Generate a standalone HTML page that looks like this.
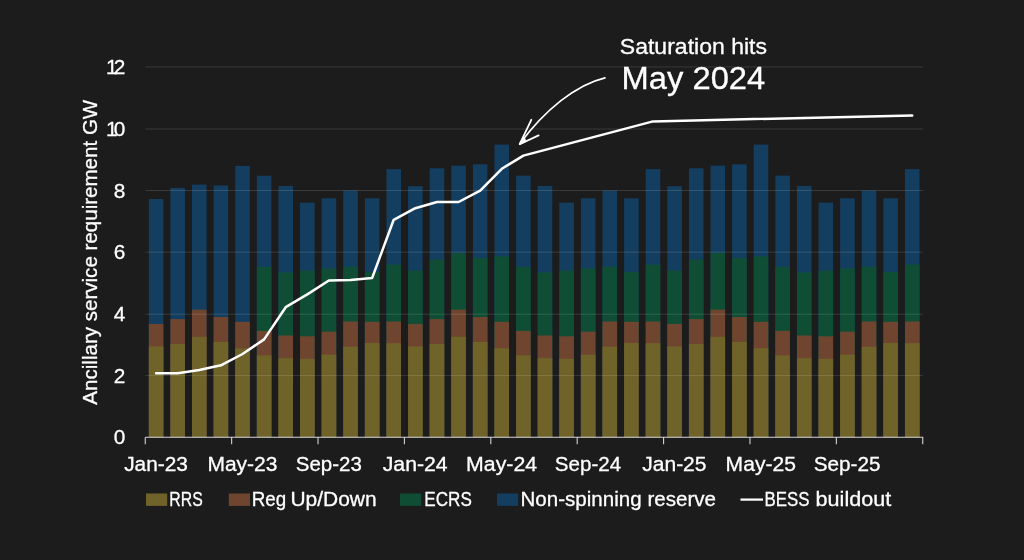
<!DOCTYPE html>
<html><head><meta charset="utf-8"><title>chart</title>
<style>html,body{margin:0;padding:0;background:#1c1c1c;}body{width:1024px;height:560px;overflow:hidden;}svg{display:block;will-change:transform;}text{font-family:"Liberation Sans",sans-serif;fill:#fff;stroke:#fff;stroke-width:0.3px;}</style></head><body>
<svg width="1024" height="560" viewBox="0 0 1024 560">
<rect width="1024" height="560" fill="#1c1c1c"/>
<g shape-rendering="auto">
<rect x="148.82" y="199.00" width="14.55" height="238.25" fill="#143e60"/>
<rect x="148.82" y="323.90" width="14.55" height="113.35" fill="#70452f"/>
<rect x="148.82" y="346.40" width="14.55" height="90.85" fill="#6f632a"/>
<rect x="170.43" y="187.90" width="14.55" height="249.35" fill="#143e60"/>
<rect x="170.43" y="319.10" width="14.55" height="118.15" fill="#70452f"/>
<rect x="170.43" y="344.00" width="14.55" height="93.25" fill="#6f632a"/>
<rect x="192.03" y="184.60" width="14.55" height="252.65" fill="#143e60"/>
<rect x="192.03" y="309.70" width="14.55" height="127.55" fill="#70452f"/>
<rect x="192.03" y="336.80" width="14.55" height="100.45" fill="#6f632a"/>
<rect x="213.64" y="185.50" width="14.55" height="251.75" fill="#143e60"/>
<rect x="213.64" y="317.00" width="14.55" height="120.25" fill="#70452f"/>
<rect x="213.64" y="341.90" width="14.55" height="95.35" fill="#6f632a"/>
<rect x="235.24" y="165.90" width="14.55" height="271.35" fill="#143e60"/>
<rect x="235.24" y="321.80" width="14.55" height="115.45" fill="#70452f"/>
<rect x="235.24" y="348.30" width="14.55" height="88.95" fill="#6f632a"/>
<rect x="256.85" y="175.70" width="14.55" height="261.55" fill="#143e60"/>
<rect x="256.85" y="266.90" width="14.55" height="170.35" fill="#0f4e34"/>
<rect x="256.85" y="330.90" width="14.55" height="106.35" fill="#70452f"/>
<rect x="256.85" y="355.30" width="14.55" height="81.95" fill="#6f632a"/>
<rect x="278.45" y="186.00" width="14.55" height="251.25" fill="#143e60"/>
<rect x="278.45" y="272.50" width="14.55" height="164.75" fill="#0f4e34"/>
<rect x="278.45" y="335.50" width="14.55" height="101.75" fill="#70452f"/>
<rect x="278.45" y="358.20" width="14.55" height="79.05" fill="#6f632a"/>
<rect x="300.05" y="202.60" width="14.55" height="234.65" fill="#143e60"/>
<rect x="300.05" y="270.60" width="14.55" height="166.65" fill="#0f4e34"/>
<rect x="300.05" y="336.30" width="14.55" height="100.95" fill="#70452f"/>
<rect x="300.05" y="358.80" width="14.55" height="78.45" fill="#6f632a"/>
<rect x="321.66" y="198.30" width="14.55" height="238.95" fill="#143e60"/>
<rect x="321.66" y="268.50" width="14.55" height="168.75" fill="#0f4e34"/>
<rect x="321.66" y="331.70" width="14.55" height="105.55" fill="#70452f"/>
<rect x="321.66" y="354.70" width="14.55" height="82.55" fill="#6f632a"/>
<rect x="343.26" y="190.50" width="14.55" height="246.75" fill="#143e60"/>
<rect x="343.26" y="266.70" width="14.55" height="170.55" fill="#0f4e34"/>
<rect x="343.26" y="321.50" width="14.55" height="115.75" fill="#70452f"/>
<rect x="343.26" y="346.70" width="14.55" height="90.55" fill="#6f632a"/>
<rect x="364.87" y="198.30" width="14.55" height="238.95" fill="#143e60"/>
<rect x="364.87" y="272.00" width="14.55" height="165.25" fill="#0f4e34"/>
<rect x="364.87" y="321.80" width="14.55" height="115.45" fill="#70452f"/>
<rect x="364.87" y="343.00" width="14.55" height="94.25" fill="#6f632a"/>
<rect x="386.47" y="169.10" width="14.55" height="268.15" fill="#143e60"/>
<rect x="386.47" y="264.60" width="14.55" height="172.65" fill="#0f4e34"/>
<rect x="386.47" y="321.50" width="14.55" height="115.75" fill="#70452f"/>
<rect x="386.47" y="343.20" width="14.55" height="94.05" fill="#6f632a"/>
<rect x="408.07" y="186.20" width="14.55" height="251.05" fill="#143e60"/>
<rect x="408.07" y="270.60" width="14.55" height="166.65" fill="#0f4e34"/>
<rect x="408.07" y="323.90" width="14.55" height="113.35" fill="#70452f"/>
<rect x="408.07" y="346.40" width="14.55" height="90.85" fill="#6f632a"/>
<rect x="429.68" y="168.30" width="14.55" height="268.95" fill="#143e60"/>
<rect x="429.68" y="259.45" width="14.55" height="177.80" fill="#0f4e34"/>
<rect x="429.68" y="319.10" width="14.55" height="118.15" fill="#70452f"/>
<rect x="429.68" y="344.00" width="14.55" height="93.25" fill="#6f632a"/>
<rect x="451.28" y="165.60" width="14.55" height="271.65" fill="#143e60"/>
<rect x="451.28" y="253.00" width="14.55" height="184.25" fill="#0f4e34"/>
<rect x="451.28" y="309.70" width="14.55" height="127.55" fill="#70452f"/>
<rect x="451.28" y="336.80" width="14.55" height="100.45" fill="#6f632a"/>
<rect x="472.88" y="164.30" width="14.55" height="272.95" fill="#143e60"/>
<rect x="472.88" y="258.00" width="14.55" height="179.25" fill="#0f4e34"/>
<rect x="472.88" y="317.00" width="14.55" height="120.25" fill="#70452f"/>
<rect x="472.88" y="341.90" width="14.55" height="95.35" fill="#6f632a"/>
<rect x="494.49" y="144.60" width="14.55" height="292.65" fill="#143e60"/>
<rect x="494.49" y="256.40" width="14.55" height="180.85" fill="#0f4e34"/>
<rect x="494.49" y="321.80" width="14.55" height="115.45" fill="#70452f"/>
<rect x="494.49" y="348.30" width="14.55" height="88.95" fill="#6f632a"/>
<rect x="516.09" y="175.60" width="14.55" height="261.65" fill="#143e60"/>
<rect x="516.09" y="266.90" width="14.55" height="170.35" fill="#0f4e34"/>
<rect x="516.09" y="330.90" width="14.55" height="106.35" fill="#70452f"/>
<rect x="516.09" y="355.30" width="14.55" height="81.95" fill="#6f632a"/>
<rect x="537.70" y="186.00" width="14.55" height="251.25" fill="#143e60"/>
<rect x="537.70" y="272.50" width="14.55" height="164.75" fill="#0f4e34"/>
<rect x="537.70" y="335.50" width="14.55" height="101.75" fill="#70452f"/>
<rect x="537.70" y="358.20" width="14.55" height="79.05" fill="#6f632a"/>
<rect x="559.30" y="202.60" width="14.55" height="234.65" fill="#143e60"/>
<rect x="559.30" y="270.60" width="14.55" height="166.65" fill="#0f4e34"/>
<rect x="559.30" y="336.30" width="14.55" height="100.95" fill="#70452f"/>
<rect x="559.30" y="358.80" width="14.55" height="78.45" fill="#6f632a"/>
<rect x="580.90" y="198.30" width="14.55" height="238.95" fill="#143e60"/>
<rect x="580.90" y="268.50" width="14.55" height="168.75" fill="#0f4e34"/>
<rect x="580.90" y="331.70" width="14.55" height="105.55" fill="#70452f"/>
<rect x="580.90" y="354.70" width="14.55" height="82.55" fill="#6f632a"/>
<rect x="602.51" y="190.50" width="14.55" height="246.75" fill="#143e60"/>
<rect x="602.51" y="266.70" width="14.55" height="170.55" fill="#0f4e34"/>
<rect x="602.51" y="321.50" width="14.55" height="115.75" fill="#70452f"/>
<rect x="602.51" y="346.70" width="14.55" height="90.55" fill="#6f632a"/>
<rect x="624.11" y="198.30" width="14.55" height="238.95" fill="#143e60"/>
<rect x="624.11" y="272.00" width="14.55" height="165.25" fill="#0f4e34"/>
<rect x="624.11" y="321.80" width="14.55" height="115.45" fill="#70452f"/>
<rect x="624.11" y="343.00" width="14.55" height="94.25" fill="#6f632a"/>
<rect x="645.72" y="169.10" width="14.55" height="268.15" fill="#143e60"/>
<rect x="645.72" y="264.60" width="14.55" height="172.65" fill="#0f4e34"/>
<rect x="645.72" y="321.50" width="14.55" height="115.75" fill="#70452f"/>
<rect x="645.72" y="343.20" width="14.55" height="94.05" fill="#6f632a"/>
<rect x="667.32" y="186.20" width="14.55" height="251.05" fill="#143e60"/>
<rect x="667.32" y="270.60" width="14.55" height="166.65" fill="#0f4e34"/>
<rect x="667.32" y="323.90" width="14.55" height="113.35" fill="#70452f"/>
<rect x="667.32" y="346.40" width="14.55" height="90.85" fill="#6f632a"/>
<rect x="688.93" y="168.30" width="14.55" height="268.95" fill="#143e60"/>
<rect x="688.93" y="259.45" width="14.55" height="177.80" fill="#0f4e34"/>
<rect x="688.93" y="319.10" width="14.55" height="118.15" fill="#70452f"/>
<rect x="688.93" y="344.00" width="14.55" height="93.25" fill="#6f632a"/>
<rect x="710.53" y="165.60" width="14.55" height="271.65" fill="#143e60"/>
<rect x="710.53" y="253.00" width="14.55" height="184.25" fill="#0f4e34"/>
<rect x="710.53" y="309.70" width="14.55" height="127.55" fill="#70452f"/>
<rect x="710.53" y="336.80" width="14.55" height="100.45" fill="#6f632a"/>
<rect x="732.13" y="164.30" width="14.55" height="272.95" fill="#143e60"/>
<rect x="732.13" y="258.00" width="14.55" height="179.25" fill="#0f4e34"/>
<rect x="732.13" y="317.00" width="14.55" height="120.25" fill="#70452f"/>
<rect x="732.13" y="341.90" width="14.55" height="95.35" fill="#6f632a"/>
<rect x="753.74" y="144.60" width="14.55" height="292.65" fill="#143e60"/>
<rect x="753.74" y="256.40" width="14.55" height="180.85" fill="#0f4e34"/>
<rect x="753.74" y="321.80" width="14.55" height="115.45" fill="#70452f"/>
<rect x="753.74" y="348.30" width="14.55" height="88.95" fill="#6f632a"/>
<rect x="775.34" y="175.60" width="14.55" height="261.65" fill="#143e60"/>
<rect x="775.34" y="266.90" width="14.55" height="170.35" fill="#0f4e34"/>
<rect x="775.34" y="330.90" width="14.55" height="106.35" fill="#70452f"/>
<rect x="775.34" y="355.30" width="14.55" height="81.95" fill="#6f632a"/>
<rect x="796.95" y="186.00" width="14.55" height="251.25" fill="#143e60"/>
<rect x="796.95" y="272.50" width="14.55" height="164.75" fill="#0f4e34"/>
<rect x="796.95" y="335.50" width="14.55" height="101.75" fill="#70452f"/>
<rect x="796.95" y="358.20" width="14.55" height="79.05" fill="#6f632a"/>
<rect x="818.55" y="202.60" width="14.55" height="234.65" fill="#143e60"/>
<rect x="818.55" y="270.60" width="14.55" height="166.65" fill="#0f4e34"/>
<rect x="818.55" y="336.30" width="14.55" height="100.95" fill="#70452f"/>
<rect x="818.55" y="358.80" width="14.55" height="78.45" fill="#6f632a"/>
<rect x="840.15" y="198.30" width="14.55" height="238.95" fill="#143e60"/>
<rect x="840.15" y="268.50" width="14.55" height="168.75" fill="#0f4e34"/>
<rect x="840.15" y="331.70" width="14.55" height="105.55" fill="#70452f"/>
<rect x="840.15" y="354.70" width="14.55" height="82.55" fill="#6f632a"/>
<rect x="861.76" y="190.50" width="14.55" height="246.75" fill="#143e60"/>
<rect x="861.76" y="266.70" width="14.55" height="170.55" fill="#0f4e34"/>
<rect x="861.76" y="321.50" width="14.55" height="115.75" fill="#70452f"/>
<rect x="861.76" y="346.70" width="14.55" height="90.55" fill="#6f632a"/>
<rect x="883.36" y="198.30" width="14.55" height="238.95" fill="#143e60"/>
<rect x="883.36" y="272.00" width="14.55" height="165.25" fill="#0f4e34"/>
<rect x="883.36" y="321.80" width="14.55" height="115.45" fill="#70452f"/>
<rect x="883.36" y="343.00" width="14.55" height="94.25" fill="#6f632a"/>
<rect x="904.97" y="169.10" width="14.55" height="268.15" fill="#143e60"/>
<rect x="904.97" y="264.60" width="14.55" height="172.65" fill="#0f4e34"/>
<rect x="904.97" y="321.50" width="14.55" height="115.75" fill="#70452f"/>
<rect x="904.97" y="343.20" width="14.55" height="94.05" fill="#6f632a"/>
</g>
<line x1="145.4" x2="923" y1="375.60" y2="375.60" stroke="#ffffff" stroke-opacity="0.13" stroke-width="1"/>
<line x1="145.4" x2="923" y1="314.20" y2="314.20" stroke="#ffffff" stroke-opacity="0.13" stroke-width="1"/>
<line x1="145.4" x2="923" y1="252.20" y2="252.20" stroke="#ffffff" stroke-opacity="0.13" stroke-width="1"/>
<line x1="145.4" x2="923" y1="190.50" y2="190.50" stroke="#ffffff" stroke-opacity="0.13" stroke-width="1"/>
<line x1="145.4" x2="923" y1="129.00" y2="129.00" stroke="#ffffff" stroke-opacity="0.13" stroke-width="1"/>
<line x1="145.4" x2="923" y1="66.95" y2="66.95" stroke="#ffffff" stroke-opacity="0.13" stroke-width="1"/>
<line x1="145.25" x2="923.2" y1="437.25" y2="437.25" stroke="#d4d4d4" stroke-width="1.1"/>
<line x1="145.25" x2="145.25" y1="437.25" y2="444.2" stroke="#d4d4d4" stroke-width="1.1"/>
<line x1="231.64" x2="231.64" y1="437.25" y2="444.2" stroke="#d4d4d4" stroke-width="1.1"/>
<line x1="318.03" x2="318.03" y1="437.25" y2="444.2" stroke="#d4d4d4" stroke-width="1.1"/>
<line x1="404.41" x2="404.41" y1="437.25" y2="444.2" stroke="#d4d4d4" stroke-width="1.1"/>
<line x1="490.80" x2="490.80" y1="437.25" y2="444.2" stroke="#d4d4d4" stroke-width="1.1"/>
<line x1="577.19" x2="577.19" y1="437.25" y2="444.2" stroke="#d4d4d4" stroke-width="1.1"/>
<line x1="663.58" x2="663.58" y1="437.25" y2="444.2" stroke="#d4d4d4" stroke-width="1.1"/>
<line x1="749.97" x2="749.97" y1="437.25" y2="444.2" stroke="#d4d4d4" stroke-width="1.1"/>
<line x1="836.35" x2="836.35" y1="437.25" y2="444.2" stroke="#d4d4d4" stroke-width="1.1"/>
<line x1="922.74" x2="922.74" y1="437.25" y2="444.2" stroke="#d4d4d4" stroke-width="1.1"/>
<polyline points="156.1,373.3 177.7,373.3 199.3,370.0 220.9,365.3 242.5,354.0 264.1,339.4 285.7,307.2 307.3,294.4 328.9,280.5 350.5,280.1 372.1,278.1 393.7,219.8 415.3,208.2 437.0,202.0 458.6,202.0 480.2,190.7 501.8,168.8 523.4,155.6 653.0,121.4 912.2,115.5" fill="none" stroke="#fff" stroke-width="2.5" stroke-linejoin="round" stroke-linecap="round"/>
<path d="M605,77.8 C575.5,84.8 544.5,110.5 519.8,143.8" fill="none" stroke="#fff" stroke-width="1.7" stroke-linecap="round"/>
<path d="M531.3,119.8 L519.7,144.2 L538.6,135.4" fill="none" stroke="#fff" stroke-width="1.8" stroke-linecap="round" stroke-linejoin="round"/>
<path d="M519.5,144.6 L523.6,136.2 L526.2,141.4 Z" fill="#fff" stroke="#fff" stroke-width="0.8" stroke-linejoin="round"/>
<text x="125.3" y="444.25" font-size="20.8" text-anchor="end">0</text>
<text x="125.3" y="382.60" font-size="20.8" text-anchor="end">2</text>
<text x="125.3" y="321.20" font-size="20.8" text-anchor="end">4</text>
<text x="125.3" y="259.20" font-size="20.8" text-anchor="end">6</text>
<text x="125.3" y="197.50" font-size="20.8" text-anchor="end">8</text>
<text x="106.1" y="136.00" font-size="20.8">1</text>
<text x="125.3" y="136.00" font-size="20.8" text-anchor="end">0</text>
<text x="106.1" y="73.95" font-size="20.8">1</text>
<text x="125.3" y="73.95" font-size="20.8" text-anchor="end">2</text>
<text x="156.05" y="470.7" font-size="20.5" text-anchor="middle" textLength="63.75" lengthAdjust="spacingAndGlyphs">Jan-23</text>
<text x="242.44" y="470.7" font-size="20.5" text-anchor="middle" textLength="70.00" lengthAdjust="spacingAndGlyphs">May-23</text>
<text x="328.82" y="470.7" font-size="20.5" text-anchor="middle" textLength="66.00" lengthAdjust="spacingAndGlyphs">Sep-23</text>
<text x="415.21" y="470.7" font-size="20.5" text-anchor="middle" textLength="65.00" lengthAdjust="spacingAndGlyphs">Jan-24</text>
<text x="501.60" y="470.7" font-size="20.5" text-anchor="middle" textLength="71.00" lengthAdjust="spacingAndGlyphs">May-24</text>
<text x="587.99" y="470.7" font-size="20.5" text-anchor="middle" textLength="66.25" lengthAdjust="spacingAndGlyphs">Sep-24</text>
<text x="674.38" y="470.7" font-size="20.5" text-anchor="middle" textLength="64.25" lengthAdjust="spacingAndGlyphs">Jan-25</text>
<text x="760.76" y="470.7" font-size="20.5" text-anchor="middle" textLength="70.25" lengthAdjust="spacingAndGlyphs">May-25</text>
<text x="847.15" y="470.7" font-size="20.5" text-anchor="middle" textLength="66.75" lengthAdjust="spacingAndGlyphs">Sep-25</text>
<rect x="146.00" y="493.5" width="21.2" height="12.4" fill="#6f632a"/>
<text x="169.30" y="506.2" font-size="20.5" textLength="33.40" lengthAdjust="spacingAndGlyphs">RRS</text>
<rect x="228.80" y="493.5" width="21.2" height="12.4" fill="#70452f"/>
<text x="251.70" y="506.2" font-size="20.5" textLength="34.40" lengthAdjust="spacingAndGlyphs">Reg</text>
<text x="290.40" y="506.2" font-size="20.5" textLength="86.20" lengthAdjust="spacingAndGlyphs">Up/Down</text>
<rect x="400.00" y="493.5" width="21.2" height="12.4" fill="#0f4e34"/>
<text x="424.30" y="506.2" font-size="20.5" textLength="47.50" lengthAdjust="spacingAndGlyphs">ECRS</text>
<rect x="497.00" y="493.5" width="21.2" height="12.4" fill="#143e60"/>
<text x="520.50" y="506.2" font-size="20.5" textLength="195.50" lengthAdjust="spacingAndGlyphs">Non-spinning reserve</text>
<line x1="740.5" x2="763" y1="499.6" y2="499.6" stroke="#fff" stroke-width="2.25"/>
<text x="764.60" y="506.2" font-size="20.5" textLength="45.00" lengthAdjust="spacingAndGlyphs">BESS</text>
<text x="815.60" y="506.2" font-size="20.5" textLength="75.60" lengthAdjust="spacingAndGlyphs">buildout</text>
<text transform="translate(97.2,252.2) rotate(-90)" font-size="20.5" text-anchor="middle" textLength="304.9" lengthAdjust="spacingAndGlyphs">Ancillary service requirement GW</text>
<text x="619.8" y="54.1" font-size="22.3" textLength="147.2" lengthAdjust="spacingAndGlyphs">Saturation hits</text>
<text x="621.6" y="88.9" font-size="31" textLength="143.6" lengthAdjust="spacingAndGlyphs">May 2024</text>
</svg></body></html>
